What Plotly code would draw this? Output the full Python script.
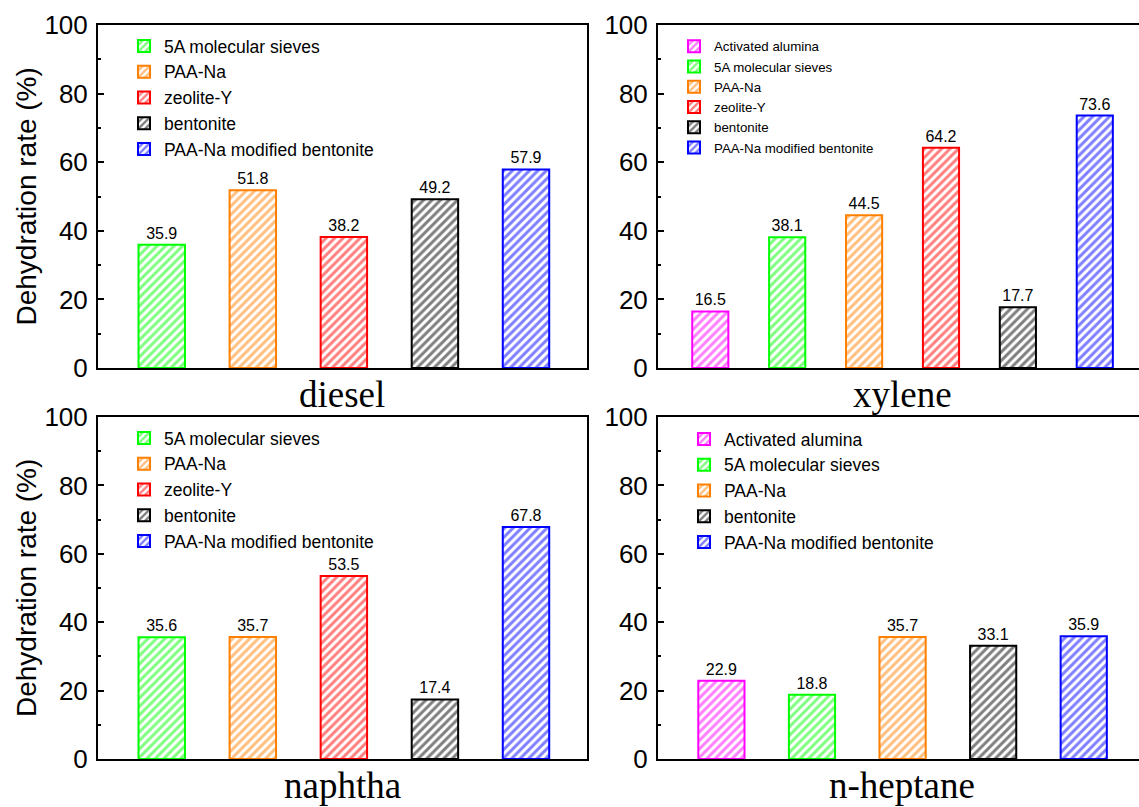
import plotly.graph_objects as go

# ---------------- data ----------------
diesel_materials = ["5A molecular sieves", "PAA-Na", "zeolite-Y", "bentonite", "PAA-Na modified bentonite"]
diesel_values = [35.9, 51.8, 38.2, 49.2, 57.9]

xylene_materials = ["Activated alumina", "5A molecular sieves", "PAA-Na", "zeolite-Y", "bentonite",
                    "PAA-Na modified bentonite"]
xylene_values = [16.5, 38.1, 44.5, 64.2, 17.7, 73.6]

naphtha_materials = ["5A molecular sieves", "PAA-Na", "zeolite-Y", "bentonite", "PAA-Na modified bentonite"]
naphtha_values = [35.6, 35.7, 53.5, 17.4, 67.8]

heptane_materials = ["Activated alumina", "5A molecular sieves", "PAA-Na", "bentonite",
                     "PAA-Na modified bentonite"]
heptane_values = [22.9, 18.8, 35.7, 33.1, 35.9]

panel_titles = ["diesel", "xylene", "naphtha", "n-heptane"]
y_ticks = [0, 20, 40, 60, 80, 100]

colors = {
    "Activated alumina": "#FF00FF",
    "5A molecular sieves": "#00FF00",
    "PAA-Na": "#FF8000",
    "zeolite-Y": "#FF0000",
    "bentonite": "#000000",
    "PAA-Na modified bentonite": "#0000FF",
}

SANS = "Liberation Sans, Arial, sans-serif"
SERIF = "Liberation Serif, Times New Roman, serif"

W, H = 1139, 807

panels = [
    dict(m=diesel_materials, v=diesel_values, ax="", lg="legend",
         xd=(98, 587), yd=(25, 368), bw=0.51, xr=(-0.70, 4.67), left=True),
    dict(m=xylene_materials, v=xylene_values, ax="2", lg="legend2",
         xd=(658, 1139), yd=(25, 368), bw=0.47, xr=(-0.68, 5.575), left=False),
    dict(m=naphtha_materials, v=naphtha_values, ax="3", lg="legend3",
         xd=(98, 587), yd=(417, 759), bw=0.51, xr=(-0.70, 4.67), left=True),
    dict(m=heptane_materials, v=heptane_values, ax="4", lg="legend4",
         xd=(658, 1139), yd=(417, 759), bw=0.51, xr=(-0.70, 4.61), left=False),
]

fig = go.Figure()
layout = dict(
    width=W, height=H,
    margin=dict(l=0, r=0, t=0, b=0, autoexpand=False),
    paper_bgcolor="white", plot_bgcolor="white",
    barmode="overlay", showlegend=True,
    font=dict(family=SANS, color="black"),
)

annotations = []
legend_cfg = {
    "legend": dict(x=124 / W, y=1 - 28 / H, font=17.5, gap=7),
    "legend2": dict(x=674 / W, y=1 - 31 / H, font=13.3, gap=4),
    "legend3": dict(x=124 / W, y=1 - 420 / H, font=17.5, gap=7),
    "legend4": dict(x=684 / W, y=1 - 421 / H, font=17.5, gap=7),
}

for k, p in enumerate(panels):
    xa = "x" + p["ax"]
    ya = "y" + p["ax"]
    for i, (name, val) in enumerate(zip(p["m"], p["v"])):
        c = colors[name]
        fig.add_trace(go.Bar(
            x=[i], y=[val], width=p["bw"], name=name,
            xaxis=xa, yaxis=ya, legend=p["lg"], legendgroup=p["lg"] + name,
            marker=dict(color="white", line=dict(color=c, width=2),
                        pattern=dict(shape="/", fgcolor=c, bgcolor="white", size=6, solidity=0.5)),
            text=[f"{val:.1f}"], textposition="outside", cliponaxis=False,
            textfont=dict(family=SANS, size=16, color="black"),
            hoverinfo="skip",
        ))
    xd = (p["xd"][0] / W, p["xd"][1] / W)
    yd = (1 - p["yd"][1] / H, 1 - p["yd"][0] / H)
    layout["xaxis" + p["ax"]] = dict(
        domain=xd, range=list(p["xr"]), showline=True, linecolor="black", linewidth=2,
        mirror=True, showticklabels=False, ticks="", showgrid=False, zeroline=False,
        anchor=ya, fixedrange=True,
    )
    layout["yaxis" + p["ax"]] = dict(
        domain=yd, range=[0, 100], tickvals=y_ticks, showline=True, linecolor="black",
        linewidth=2, mirror=p["left"], ticks="inside", ticklen=6, tickwidth=2, tickcolor="black",
        minor=dict(tick0=0, dtick=10, ticks="inside", ticklen=3, tickwidth=1.5, tickcolor="black"),
        tickfont=dict(family=SANS, size=26, color="black"), ticklabelstandoff=3,
        showgrid=False, zeroline=False, anchor=xa, fixedrange=True,
    )
    center_x = (p["xd"][0] + 244) / W
    annotations.append(dict(
        text=panel_titles[k], xref="paper", yref="paper", x=center_x, xanchor="center",
        y=yd[0], yanchor="top", yshift=-4, showarrow=False,
        font=dict(family=SERIF, size=37, color="black"),
    ))
    if p["left"]:
        annotations.append(dict(
            text="Dehydration rate (%)", xref="paper", yref="paper",
            x=26 / W, y=(yd[0] + yd[1]) / 2, textangle=-90, showarrow=False,
            xanchor="center", yanchor="middle",
            font=dict(family=SANS, size=28, color="black"),
        ))

for key, cfg in legend_cfg.items():
    layout[key] = dict(
        x=cfg["x"], y=cfg["y"], xanchor="left", yanchor="top", xref="paper", yref="paper",
        bgcolor="rgba(0,0,0,0)", borderwidth=0, tracegroupgap=cfg["gap"],
        font=dict(family=SANS, size=cfg["font"], color="black"),
        traceorder="normal",
    )

layout["annotations"] = annotations
fig.update_layout(**layout)
fig.write_html("out.html")
